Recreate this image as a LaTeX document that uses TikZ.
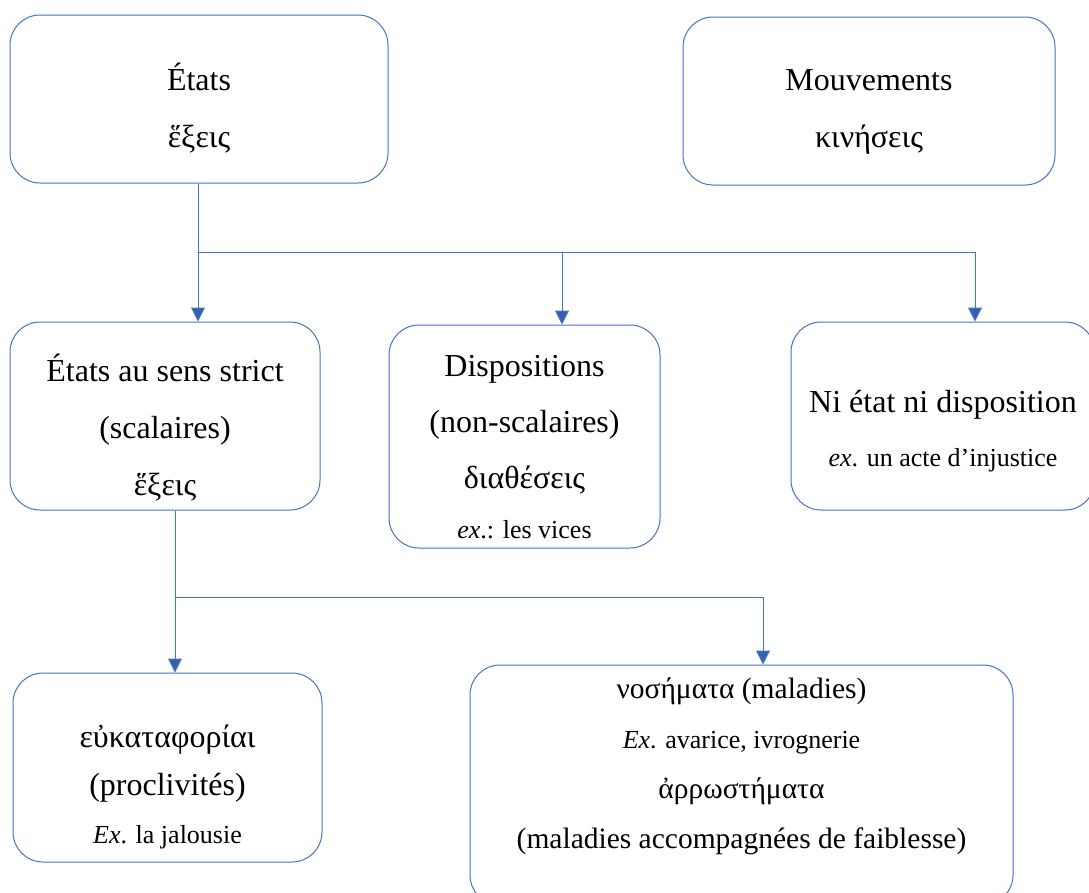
\documentclass[tikz,border=0pt]{standalone}
\usepackage{fontspec}
\setmainfont{Liberation Serif}
\usetikzlibrary{arrows.meta}
\definecolor{boxblue}{RGB}{68,114,196}
\definecolor{tipblue}{RGB}{52,98,170}
\newcommand{\exsize}{\fontsize{26}{30}\selectfont}

\begin{document}
\begin{tikzpicture}[x=1pt,y=-1pt]
		\tikzstyle{box}=[draw=boxblue, line width=1pt, rounded corners=30pt, inner sep=0pt]
		\tikzstyle{txt}=[align=center, inner sep=0pt, font=\fontsize{32}{57}\selectfont]
		\tikzstyle{link}=[draw=boxblue, line width=1pt]
		\tikzstyle{arr}=[link, -{Triangle[width=14pt,length=14pt,fill=tipblue]}]
		\useasboundingbox (0,0) rectangle (1089,892);
		\node [box, minimum width=378pt, minimum height=168pt] (etats) at (199,99) {};
		\node [txt] (etatsT) at (199,108) {États\\ἕξεις};
		\node [box, minimum width=372pt, minimum height=168pt] (mouv) at (869,101) {};
		\node [txt] (mouvT) at (869,112) {Mouvements\\κινήσεις};
		\node [box, minimum width=310pt, minimum height=188pt] (strict) at (165,416) {};
		\node [txt] (strictT) at (165,428) {États au sens strict\\(scalaires)\\ἕξεις};
		\node [box, minimum width=271pt, minimum height=223pt] (dispo) at (524.5,436.5) {};
		\node [txt, font=\fontsize{32}{56}\selectfont] (dispoT) at (524.5,447) {Dispositions\\(non-scalaires)\\διαθέσεις\\[-6pt]{\exsize\textit{ex}.: les vices}};
		\node [box, minimum width=304pt, minimum height=188pt] (ni) at (943,416) {};
		\node [txt] (niT) at (943,431) {Ni état ni disposition\\[-3pt]{\exsize\textit{ex}. un acte d’injustice}};
		\node [box, minimum width=309pt, minimum height=189pt] (procl) at (167.5,767.5) {};
		\node [txt, font=\fontsize{32}{48}\selectfont] (proclT) at (167.5,787) {εὐκαταφορίαι\\(proclivités)\\{\exsize\textit{Ex}. la jalousie}};
		\node [box, minimum width=543pt, minimum height=240pt] (nos) at (741.5,785) {};
		\node [txt, font=\fontsize{29.5}{50}\selectfont] (nosT) at (741.5,766) {νοσήματα (maladies)\\{\exsize\textit{Ex}. avarice, ivrognerie}\\ἀρρωστήματα\\(maladies accompagnées de faiblesse)};
		\coordinate (split1) at (198,252);
		\coordinate (split1m) at (562,252);
		\coordinate (split1r) at (975,252);
		\draw [link] (split1 |- etats.south) -- (split1) -- (split1r);
		\draw [arr] (split1) -- (split1 |- strict.north);
		\draw [arr] (split1m) -- (split1m |- dispo.north);
		\draw [arr] (split1r) -- (split1r |- ni.north);
		\coordinate (split2) at (175,597);
		\coordinate (split2r) at (763,597);
		\draw [link] (split2 |- strict.south) -- (split2) -- (split2r);
		\draw [arr] (split2) -- (split2 |- procl.north);
		\draw [arr] (split2r) -- (split2r |- nos.north);
\end{tikzpicture}
\end{document}
